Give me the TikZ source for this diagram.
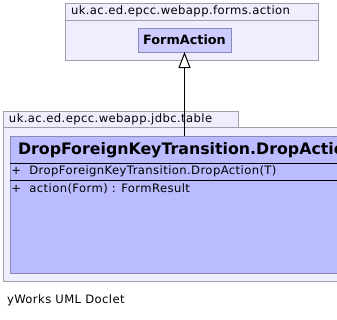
\documentclass[tikz,border=0pt]{standalone}
\usepackage{fontspec}
\setmainfont{DejaVu Sans}
\newfontfamily\umlfont[LetterSpace=3.5]{DejaVu Sans}
\usetikzlibrary{arrows.meta,positioning,calc}
\definecolor{PkgFill}{HTML}{EEEEFF}
\definecolor{PkgLine}{HTML}{A0A0A8}
\definecolor{ClsFill}{HTML}{BBBBFF}
\definecolor{ClsTop}{HTML}{CCCCFF}
\definecolor{ClsLine}{HTML}{8A8AB4}

\begin{document}
\begin{tikzpicture}[x=1pt,y=-1pt,every node/.style={inner sep=0pt,outer sep=0pt},
 pkg/.style={draw=PkgLine,fill=PkgFill,line width=1pt,anchor=north west},
 cls/.style={draw=ClsLine,fill=ClsFill,line width=1pt,anchor=north west},
 pkgname/.style={anchor=west,font=\umlfont\fontsize{11.6}{13}\selectfont},
 member/.style={anchor=west,font=\umlfont\fontsize{11.6}{13}\selectfont}]
\useasboundingbox[fill=white] (0,0) rectangle (337,319);
\clip (0,0) rectangle (337,319);

% forms.action package
\node[pkg,minimum width=253pt,minimum height=57pt] (forms) at (65,3) {};
\draw[PkgLine,line width=1pt] ($(forms.north west)+(0,17)$) coordinate (formstab) -- (formstab -| forms.east);
\node[pkgname] (formsname) at ($(forms.north west)+(6,8.5)$) {uk.ac.ed.epcc.webapp.forms.action};
\node[cls,fill=ClsTop,minimum width=93pt,minimum height=24pt,
 font=\bfseries\fontsize{12.8}{14}\selectfont] (formaction) at (138,28) {FormAction};

% jdbc.table package
\node[pkg,minimum width=235pt,minimum height=16pt] (tabletab) at (3,111) {};
\node[pkg,minimum width=400pt,minimum height=154pt] (table) at (3,127) {};
\node[pkgname] (tablename) at ($(tabletab.west)+(6,0)$) {uk.ac.ed.epcc.webapp.jdbc.table};

% DropAction class
\node[cls,minimum width=400pt,minimum height=137pt] (dropcls) at (10,136) {};
\node[anchor=west,font=\bfseries\fontsize{15.8}{18}\selectfont] (dropname) at ($(dropcls.north west)+(8,14)$) {DropForeignKeyTransition.DropAction};
\draw[black,line width=0.6pt] ($(dropcls.north west)+(0,27)$) coordinate (sepa) -- (sepa -| dropcls.east);
\draw[black,line width=0.6pt] ($(dropcls.north west)+(0,44)$) coordinate (sepb) -- (sepb -| dropcls.east);
\node[member] (dropctor) at ($(sepa)+(1.5,8.5)$) {+\ \ DropForeignKeyTransition.DropAction(T)};
\node[member] (dropop) at ($(sepb)+(1.5,8.5)$) {+\ \ action(Form) : FormResult};

% generalisation
\draw[line width=1pt,-{Triangle[open,fill=white,length=16pt,width=12pt]}]
 (formaction.south |- dropcls.north) -- (formaction.south);

\node[anchor=west,font=\umlfont\fontsize{11.6}{13}\selectfont] (doclet) at (7,300) {yWorks UML Doclet};
\end{tikzpicture}
\end{document}
